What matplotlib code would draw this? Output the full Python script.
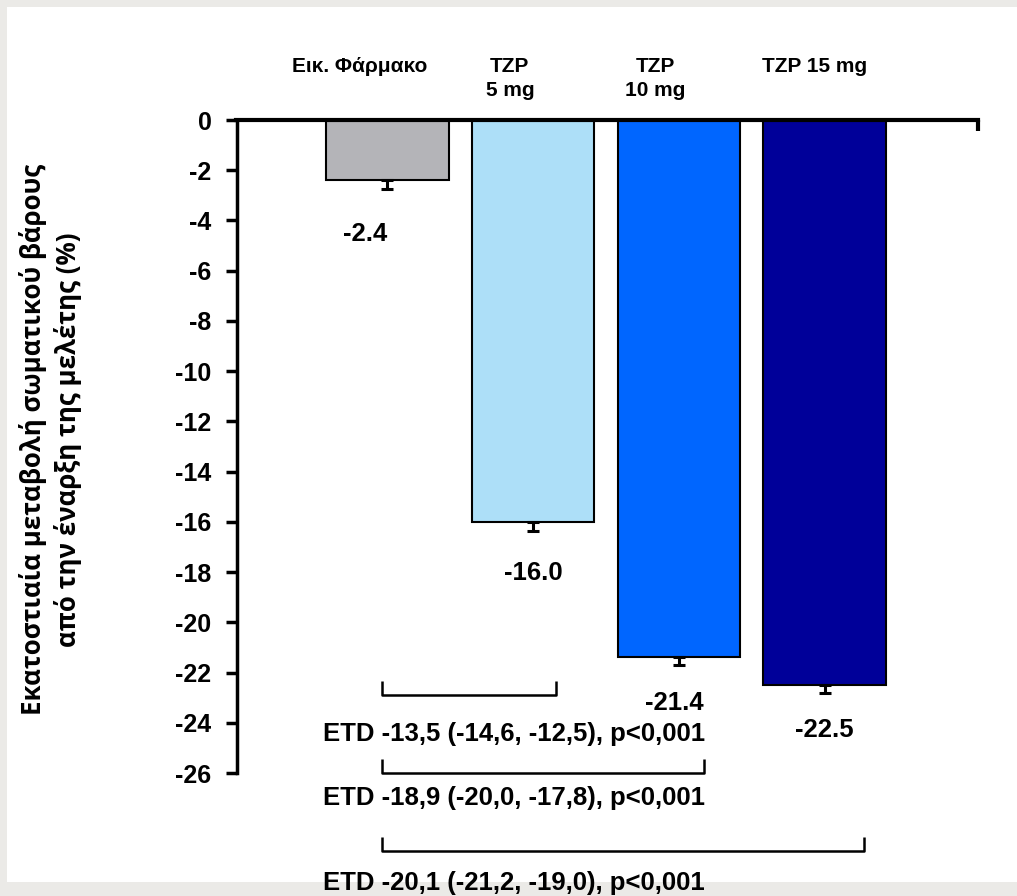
import matplotlib
matplotlib.use('Agg')
import matplotlib.pyplot as plt
from matplotlib.patches import Rectangle

# Data
groups = ['Εικ. Φάρμακο', 'TZP\n5 mg', 'TZP\n10 mg', 'TZP 15 mg']
changes = [-2.4, -16.0, -21.4, -22.5]
errors = [0.35, 0.35, 0.3, 0.3]
value_labels = ['-2.4', '-16.0', '-21.4', '-22.5']
colors = ['#b4b4b8', '#addff8', '#0066ff', '#000099']
etd_texts = ['ETD -13,5 (-14,6, -12,5), p<0,001',
             'ETD -18,9 (-20,0, -17,8), p<0,001',
             'ETD -20,1 (-21,2, -19,0), p<0,001']
yticks = list(range(0, -27, -2))

# Layout helpers (positions in data units)
header_x = [-0.19, 0.84, 1.84, 2.93]
label_dx = [-0.15, 0.0, -0.03, 0.0]
label_y = [-4.52, -18.05, -23.2, -24.28]
bracket_left = -0.04
bracket_right = [1.16, 2.17, 3.27]
bracket_y = [-22.9, -26.0, -29.1]
etd_y = [-24.46, -27.0, -30.36]

plt.rcParams['font.family'] = ['Liberation Sans', 'DejaVu Sans']
plt.rcParams['font.weight'] = 'bold'

fig = plt.figure(figsize=(10.17, 8.96), dpi=100)
fig.patch.set_facecolor('#ebeae7')
fig.patches.append(Rectangle((7 / 1017, 14 / 896), 1 - 7 / 1017, 1 - 21 / 896,
                             transform=fig.transFigure, facecolor='white',
                             edgecolor='none', zorder=-5))

ax = fig.add_axes([236.5 / 1017, 1 - 773 / 896, (978 - 236.5) / 1017, (773 - 120) / 896])
ax.set_facecolor('none')

x = list(range(len(changes)))
ax.bar(x, changes, width=0.84, color=colors, edgecolor='black', linewidth=1.5, zorder=2)
lower = [errors, [0] * len(errors)]
ax.errorbar(x, changes, yerr=lower, fmt='none', ecolor='black', elinewidth=2.2,
            capsize=4.3, capthick=2.2, zorder=3)

for i in x:
    ax.text(i + label_dx[i], label_y[i], value_labels[i], ha='center', va='center',
            fontsize=18.5, fontweight='bold')
    ax.text(header_x[i], 2.5, groups[i], ha='center', va='top', fontsize=15,
            fontweight='bold', linespacing=1.3, clip_on=False)

ax.set_xlim(-1.036, 4.053)
ax.set_ylim(-26, 0)
ax.set_yticks(yticks)
ax.set_yticklabels([str(t) for t in yticks])
ax.tick_params(axis='y', direction='out', length=8, width=2.5, labelsize=18, pad=10)
ax.xaxis.set_ticks_position('top')
ax.set_xticks([4.053])
ax.tick_params(axis='x', direction='in', length=8, width=3, labeltop=False, labelbottom=False)

for side in ['bottom', 'right']:
    ax.spines[side].set_visible(False)
ax.spines['top'].set_linewidth(3)
ax.spines['left'].set_linewidth(2.5)

# comparison brackets and treatment differences
for k in range(len(etd_texts)):
    yb = bracket_y[k]
    ax.plot([bracket_left, bracket_left, bracket_right[k], bracket_right[k]],
            [yb + 0.55, yb, yb, yb + 0.55], color='black', linewidth=1.8,
            clip_on=False, solid_capstyle='butt')
    ax.text(-0.445, etd_y[k], etd_texts[k], ha='left', va='center', fontsize=18.5,
            fontweight='bold', clip_on=False)

fig.text(0.0495, 0.509, 'Εκατοστιαία μεταβολή σωματικού βάρους\nαπό την έναρξη της μελέτης (%)',
         rotation=90, ha='center', va='center', multialignment='center',
         fontsize=18.6, fontweight='bold', family=['Open Sans', 'DejaVu Sans'], linespacing=1.3)

fig.savefig('out.png', dpi=100, facecolor=fig.get_facecolor())
plt.close(fig)
